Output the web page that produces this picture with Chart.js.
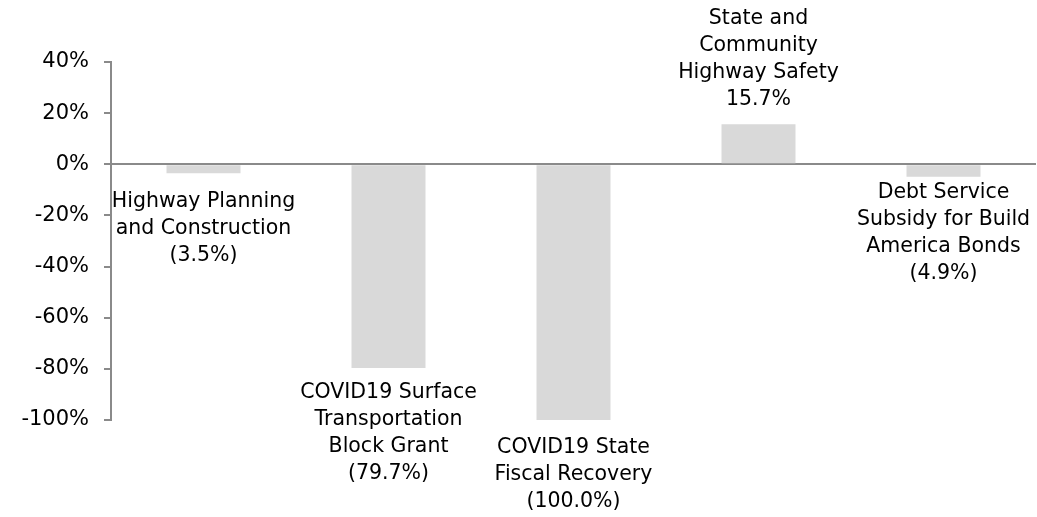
<!DOCTYPE html>
<html>
<head>
<meta charset="utf-8">
<script src="https://cdn.jsdelivr.net/npm/chart.js@4/dist/chart.umd.min.js"></script>
<style>
  html, body { margin: 0; padding: 0; background: #ffffff; }
  #wrap { width: 1037px; height: 517px; position: relative; }
</style>
</head>
<body>
<div id="wrap"><canvas id="c" width="1037" height="517"></canvas></div>
<script>
// ---- data ----
const categories = [
  ["Highway Planning", "and Construction"],
  ["COVID19 Surface", "Transportation", "Block Grant"],
  ["COVID19 State", "Fiscal Recovery"],
  ["State and", "Community", "Highway Safety"],
  ["Debt Service", "Subsidy for Build", "America Bonds"]
];
const values = [-3.5, -79.7, -100.0, 15.7, -4.9];
const valueLabels = ["(3.5%)", "(79.7%)", "(100.0%)", "15.7%", "(4.9%)"];
const yTickValues = [-100, -80, -60, -40, -20, 0, 20, 40];

// ---- styling ----
const FONT = '20.5px "DejaVu Sans"';
const TEXT = '#000000';
const AXIS = '#8a8a8a';
const BAR = '#d9d9d9';
const LINE_H = 27;
const labelGaps = [28, 25, 28, 24, 16];

const barLabels = {
  id: 'barLabels',
  afterDatasetsDraw(chart) {
    const ctx = chart.ctx;
    const meta = chart.getDatasetMeta(0);
    ctx.save();
    ctx.font = FONT;
    ctx.fillStyle = TEXT;
    ctx.textAlign = 'center';
    ctx.textBaseline = 'middle';
    meta.data.forEach((bar, i) => {
      const lines = categories[i].concat([valueLabels[i]]);
      const v = values[i];
      const gap = labelGaps[i];
      let y = v < 0 ? bar.y + gap : bar.y - gap - (lines.length - 1) * LINE_H;
      lines.forEach(l => { ctx.fillText(l, bar.x, y); y += LINE_H; });
    });
    ctx.restore();
  }
};

new Chart(document.getElementById('c'), {
  type: 'bar',
  data: {
    labels: categories.map(c => c.join(' ')),
    datasets: [{
      data: values,
      backgroundColor: BAR,
      borderWidth: 0,
      barPercentage: 0.4,
      categoryPercentage: 1.0
    }]
  },
  options: {
    responsive: false,
    animation: false,
    devicePixelRatio: 1,
    layout: { padding: { top: 62, bottom: 97, left: 0, right: 1 } },
    plugins: {
      legend: { display: false },
      title: { display: false },
      tooltip: { enabled: false }
    },
    scales: {
      x: { display: false },
      y: {
        min: -100,
        max: 40,
        afterFit(scale) { scale.width = 111; },
        afterBuildTicks(scale) { scale.ticks = yTickValues.map(v => ({ value: v })); },
        border: { display: true, color: AXIS, width: 2 },
        grid: {
          drawOnChartArea: true,
          drawTicks: true,
          tickLength: 7,
          lineWidth: 2,
          color: (c) => (c.tick && c.tick.value === 0) ? AXIS : 'rgba(0,0,0,0)',
          tickColor: AXIS
        },
        ticks: {
          padding: 15,
          color: TEXT,
          font: { family: 'DejaVu Sans', size: 21 },
          callback: (v) => v + '%'
        }
      }
    }
  },
  plugins: [barLabels]
});
</script>
</body>
</html>
